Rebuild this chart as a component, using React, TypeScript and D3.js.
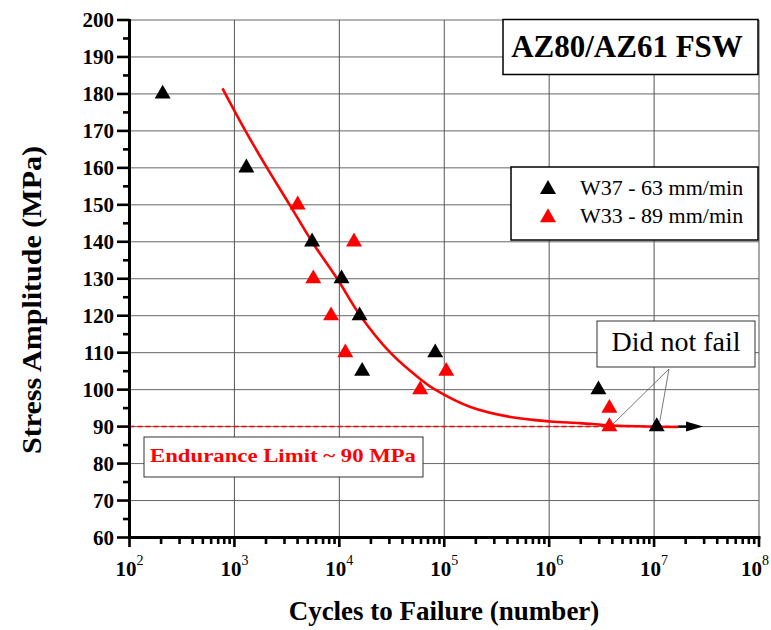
import React from "react";
import * as d3 from "d3";

// W37 - 63 mm/min (black) and W33 - 89 mm/min (red): cycles, stress amplitude
const w37Cycles = [207, 1300, 5500, 10500, 15600, 16500, 82000, 2950000, 10600000];
const w37Stress = [180, 160, 140, 130, 120, 105, 110, 100, 90];
const w33Cycles = [4010, 13800, 5650, 8340, 11400, 59000, 104500, 3750000, 3750000];
const w33Stress = [150, 140, 130, 120, 110, 100, 105, 95, 90];

// fitted S-N curve
const fitCycles = [769, 1274, 2046, 3365, 5495, 9550, 15850, 30620, 61380, 82040, 177800, 426600, 1023000, 1972000, 4074000, 16980000];
const fitStress = [181.5, 170, 160, 150, 140, 130, 120, 110, 102.5, 100, 95.3, 92.6, 91.4, 90.95, 90.3, 89.9];

const enduranceLimit = 90;
const runoutArrow = [16980000, 29300000];

const yTicks = [60, 70, 80, 90, 100, 110, 120, 130, 140, 150, 160, 170, 180, 190, 200];
const xExponents = [2, 3, 4, 5, 6, 7, 8];

const font = '"Liberation Serif", "Times New Roman", "DejaVu Serif", serif';

const App = () => {
  const x = d3.scaleLog().domain([1e2, 1e8]).range([129.5, 759]);
  const y = d3.scaleLinear().domain([60, 200]).range([537.5, 20]);

  const tri = d3.symbol(d3.symbolTriangle, 111)() || "";

  const yMinor = d3.range(65, 200, 10);
  const xMinor: number[] = [];
  xExponents.slice(0, -1).forEach(e => {
    for (let k = 2; k <= 9; k++) xMinor.push(k * Math.pow(10, e));
  });

  const fitLine = d3
    .line<number>()
    .x(d => x(d))
    .y((d, i) => y(fitStress[i]))
    .curve(d3.curveCatmullRom.alpha(0.5));

  const y90 = y(enduranceLimit);
  const arrowX0 = x(runoutArrow[0]);
  const arrowX1 = x(runoutArrow[1]);

  const leaderFrom = [669, 369];

  return (
    <svg
      width={771}
      height={630}
      style={{ position: "absolute", left: 0, top: 0, background: "#fff", fontFamily: font }}
    >
      {/* grid */}
      {yTicks.map(t => (
        <line key={"gy" + t} x1={x(1e2)} x2={x(1e8)} y1={y(t)} y2={y(t)} stroke="#666" strokeWidth={1} />
      ))}
      {xExponents.map(e => (
        <line key={"gx" + e} x1={x(Math.pow(10, e))} x2={x(Math.pow(10, e))} y1={y(60)} y2={y(200)} stroke="#555" strokeWidth={1} />
      ))}

      {/* endurance limit */}
      <line
        x1={x(1e2)}
        x2={x(runoutArrow[0])}
        y1={y90}
        y2={y90}
        stroke="#ff0000"
        strokeWidth={1.5}
        strokeDasharray="5,3"
      />

      {/* fitted curve */}
      <path d={fitLine(fitCycles) || ""} fill="none" stroke="#ff0000" strokeWidth={2.6} />

      {/* run-out arrow */}
      <line x1={arrowX0} x2={arrowX1 - 12} y1={y90} y2={y90} stroke="#000" strokeWidth={2.5} />
      <path d={`M${arrowX1},${y90}L${arrowX1 - 17},${y90 - 5}L${arrowX1 - 17},${y90 + 5}Z`} fill="#000" />

      {/* points */}
      {w37Cycles.map((c, i) => (
        <path key={"b" + i} d={tri} transform={`translate(${x(c)},${y(w37Stress[i])})`} fill="#000" />
      ))}
      {w33Cycles.map((c, i) => (
        <path key={"r" + i} d={tri} transform={`translate(${x(c)},${y(w33Stress[i])})`} fill="#ff0000" />
      ))}

      {/* y axis */}
      <line x1={129.5} x2={129.5} y1={y(200) - 1} y2={y(60) + 1.5} stroke="#000" strokeWidth={3} />
      {yTicks.map(t => (
        <g key={"yt" + t}>
          <line x1={117} x2={129.5} y1={y(t)} y2={y(t)} stroke="#000" strokeWidth={2.6} />
          <text x={114} y={y(t)} dy="0.35em" textAnchor="end" fontSize={21} fontWeight="bold">
            {t}
          </text>
        </g>
      ))}
      {yMinor.map(t => (
        <line key={"ym" + t} x1={123} x2={129.5} y1={y(t)} y2={y(t)} stroke="#000" strokeWidth={2.6} />
      ))}

      {/* x axis */}
      <line x1={128} x2={760.5} y1={537.5} y2={537.5} stroke="#000" strokeWidth={3} />
      {xExponents.map(e => {
        const px = x(Math.pow(10, e));
        const last = e === xExponents[xExponents.length - 1];
        return (
          <g key={"xt" + e}>
            <line x1={px} x2={px} y1={537.5} y2={547} stroke="#000" strokeWidth={2.6} />
            <text
              x={last ? 769 : px}
              y={576}
              textAnchor={last ? "end" : "middle"}
              fontSize={21}
              fontWeight="bold"
            >
              10
              <tspan dy={-11} fontSize={14} fontWeight="normal">
                {e}
              </tspan>
            </text>
          </g>
        );
      })}
      {xMinor.map((m, i) => (
        <line key={"xm" + i} x1={x(m)} x2={x(m)} y1={537.5} y2={544} stroke="#000" strokeWidth={2.6} />
      ))}

      {/* axis titles */}
      <text x={444} y={620} textAnchor="middle" fontSize={27} fontWeight="bold">
        Cycles to Failure (number)
      </text>
      <text
        transform="translate(41,300) rotate(-90)"
        textAnchor="middle"
        fontSize={28}
        fontWeight="bold"
        textLength={308}
        lengthAdjust="spacingAndGlyphs"
      >
        Stress Amplitude (MPa)
      </text>

      {/* title box */}
      <rect x={503} y={19.5} width={255} height={55} fill="#fff" stroke="#000" strokeWidth={1.5} />
      <text x={627} y={57} textAnchor="middle" fontSize={31} fontWeight="bold">
        AZ80/AZ61 FSW
      </text>

      {/* legend */}
      <rect x={511} y={167} width={247} height={73} fill="#fff" stroke="#000" strokeWidth={1.5} />
      <path d={tri} transform="translate(548,189.3)" fill="#000" />
      <path d={tri} transform="translate(548,217.6)" fill="#ff0000" />
      <text x={580} y={195} fontSize={22}>
        W37 - 63 mm/min
      </text>
      <text x={580} y={223} fontSize={22}>
        W33 - 89 mm/min
      </text>

      {/* endurance label */}
      <rect x={144} y={437} width={279} height={40} fill="#fff" stroke="#333" strokeWidth={1} />
      <text
        x={150}
        y={462}
        fontSize={19}
        fontWeight="bold"
        fill="#ff0000"
        textLength={266}
        lengthAdjust="spacingAndGlyphs"
      >
        Endurance Limit ~ 90 MPa
      </text>

      {/* did not fail */}
      <line x1={leaderFrom[0]} y1={leaderFrom[1]} x2={x(w33Cycles[8]) + 3} y2={y90 - 2} stroke="#555" strokeWidth={0.8} />
      <line x1={leaderFrom[0]} y1={leaderFrom[1]} x2={x(w37Cycles[8]) + 3} y2={y90 - 5} stroke="#555" strokeWidth={0.8} />
      <rect x={597} y={321} width={158} height={46} fill="#fff" stroke="#333" strokeWidth={1} />
      <text x={676} y={351} textAnchor="middle" fontSize={28}>
        Did not fail
      </text>
    </svg>
  );
};

export default App;
